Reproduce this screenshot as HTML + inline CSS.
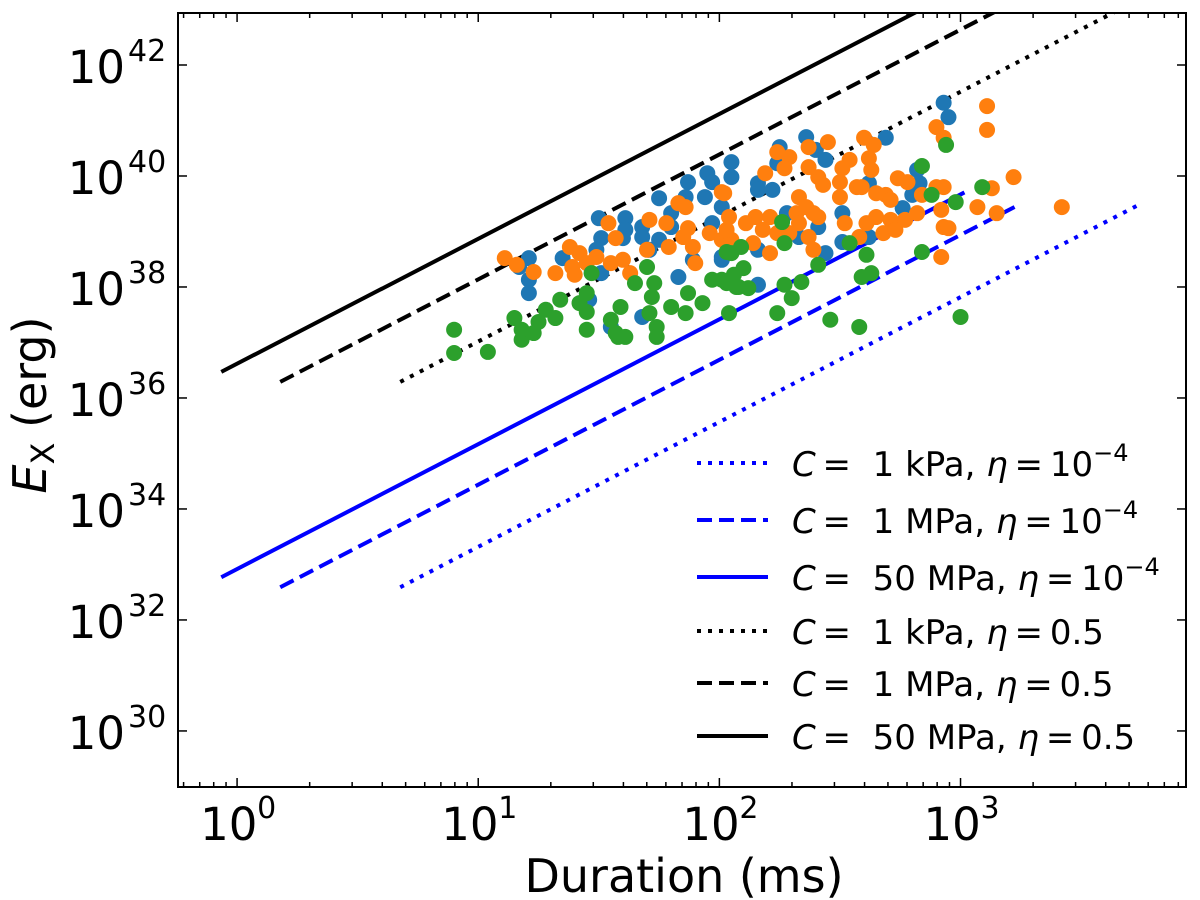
<!DOCTYPE html>
<html><head><meta charset="utf-8"><style>
html,body{margin:0;padding:0;background:#fff}
svg{display:block;font-family:"DejaVu Sans","Liberation Sans",sans-serif}
</style></head><body>
<svg id="chart" width="1200" height="900" viewBox="0 0 1200 900" xmlns="http://www.w3.org/2000/svg">
<defs><clipPath id="clip"><rect x="178" y="13" width="1008" height="774"/></clipPath></defs>
<rect x="0" y="0" width="1200" height="900" fill="#fff"/>
<g id="lines" clip-path="url(#clip)"></g>
<g id="points" clip-path="url(#clip)"></g>
<rect x="178" y="13" width="1008" height="774" fill="none" stroke="#000" stroke-width="2"/>
<g id="ticks"></g>
<g id="xlabels"></g>
<g id="ylabels"></g>
<text x="684" y="892" font-size="46" text-anchor="middle">Duration (ms)</text>
<text transform="translate(46,405) rotate(-90)" font-size="46" text-anchor="middle"><tspan font-style="italic">E</tspan><tspan font-size="32" dy="8">X</tspan><tspan dy="-8"> (erg)</tspan></text>
<g id="legend"></g>
</svg>
<script>
// axis config
const xMinLog = -0.245, xMaxLog = 3.935;
const yMinLog = 28.99, yMaxLog = 42.937;
const X0 = 178, X1 = 1186, Y0 = 787, Y1 = 13;
function sx(t){ return X0 + (Math.log10(t) - xMinLog) / (xMaxLog - xMinLog) * (X1 - X0); }
function sy(e){ return Y0 - (e - yMinLog) / (yMaxLog - yMinLog) * (Y0 - Y1); }

// tick data
const xMajorExps = [0, 1, 2, 3];
const yMajorExps = [30, 32, 34, 36, 38, 40, 42];

// line data: durations (ms), log10 energy at start, slope in log-log
const lineStartT = [4.75, 1.51, 0.86, 4.75, 1.51, 0.86];
const lineEndT = [5370, 1675, 1038, 5370, 1675, 1038];
const lineStartE = [32.59, 32.59, 32.77, 36.29, 36.29, 36.47];
const lineSlope = [2.25, 2.25, 2.25, 2.25, 2.25, 2.25];
const lineColors = ["#0000ff","#0000ff","#0000ff","#000000","#000000","#000000"];
const lineDash = ["4 7","15 7","none","4 7","15 7","none"];
const lineLabelC = ["1 kPa","1 MPa","50 MPa","1 kPa","1 MPa","50 MPa"];
const lineLabelEta = ["10","10","10","0.5","0.5","0.5"];
const lineLabelSup = ["−4","−4","−4","","",""];
const lineNames = ["line-1kpa-eta1e-4","line-1mpa-eta1e-4","line-50mpa-eta1e-4","line-1kpa-eta0.5","line-1mpa-eta0.5","line-50mpa-eta0.5"];

// scatter data: log10 duration (ms), log10 energy (erg)
const blueLogT = [2.05,2.05,1.95,1.97,1.87,1.75,1.86,1.94,1.80,2.01,1.61,1.50,1.68,1.61,1.51,1.60,1.68,1.75,1.80,1.97,1.35,1.21,1.17,1.21,1.21,1.51,1.83,1.89,2.01,1.71,1.68,1.55,1.46,1.49,
2.93,2.95,2.69,2.36,2.25,2.40,2.44,2.16,2.24,2.16,2.22,2.62,2.82,2.83,2.80,2.76,2.51,2.51,2.33,2.28,2.44,2.16,2.01,2.16,2.41,2.62];
const blueLogE = [40.25,39.98,40.05,39.89,39.89,39.60,39.62,39.62,39.33,39.44,39.24,39.24,39.08,39.03,38.88,38.88,38.90,38.85,39.08,39.15,38.52,38.52,38.36,38.13,37.89,38.25,38.18,38.49,38.54,38.67,37.46,37.28,37.77,38.67,
41.32,41.06,40.69,40.70,40.52,40.47,40.29,39.87,40.23,39.75,39.75,39.87,40.11,39.87,39.66,39.42,39.33,38.81,38.90,39.33,38.61,38.67,38.49,38.04,39.08,38.90];
const orangeLogT = [1.11,1.16,1.23,1.32,1.38,1.42,1.39,1.45,1.49,1.40,1.54,1.57,1.55,1.60,1.63,1.71,1.70,1.78,1.83,1.86,2.01,1.79,1.85,1.89,1.90,1.96,2.01,2.05,1.87,
3.11,3.11,2.90,2.93,2.60,2.64,2.45,2.37,2.24,2.29,2.27,2.19,2.37,2.54,2.51,2.62,2.63,2.41,2.43,2.50,2.57,2.59,2.50,2.65,2.69,2.71,2.74,2.78,2.84,2.90,2.93,2.92,2.93,2.95,2.92,3.07,3.22,3.13,3.15,3.42,
2.33,2.36,2.32,2.41,2.39,2.33,2.15,2.21,2.11,2.03,2.18,2.24,2.29,2.37,2.39,2.21,2.14,2.02,2.04,2.52,2.61,2.65,2.71,2.68,2.73,2.58,2.77,2.82];
const orangeLogE = [38.52,38.40,38.27,38.25,38.72,38.61,38.36,38.43,38.54,38.22,39.15,38.88,38.43,38.49,38.25,39.21,38.67,39.15,39.51,39.44,39.71,38.72,38.90,38.72,38.43,38.97,38.85,38.85,39.06,
41.26,40.83,40.88,40.69,40.69,40.56,40.61,40.52,40.43,40.34,40.14,40.05,40.16,40.29,40.14,40.32,40.11,39.98,39.84,39.89,39.80,39.80,39.62,39.69,39.66,39.57,39.96,39.89,39.66,39.80,39.80,39.39,39.08,39.06,38.54,39.44,39.98,39.78,39.33,39.44,
39.62,39.44,39.33,39.26,39.33,39.15,39.26,39.26,39.15,39.03,39.03,38.97,38.97,38.90,38.67,38.61,38.79,39.69,39.26,39.15,39.15,39.26,39.21,38.97,39.03,38.90,39.21,39.33];
const greenLogT = [0.90,0.90,1.04,1.15,1.18,1.18,1.23,1.25,1.28,1.32,1.34,1.42,1.45,1.45,1.47,1.45,1.55,1.59,1.58,1.65,1.70,1.73,1.72,1.71,1.74,1.74,1.80,1.86,1.87,1.93,1.97,2.03,2.04,2.05,2.07,1.57,1.61,
2.94,2.84,3.09,2.88,2.98,2.26,2.27,2.09,2.03,2.54,2.61,2.84,2.41,2.10,2.06,2.01,2.08,2.12,2.27,2.34,2.30,2.59,2.63,2.24,2.46,2.58,3.00];
const greenLogE = [37.23,36.81,36.83,37.44,37.05,37.23,37.17,37.37,37.59,37.44,37.77,37.71,37.89,37.55,38.25,37.23,37.41,37.64,37.10,38.07,38.36,38.07,37.82,37.53,37.28,37.10,37.64,37.53,37.89,37.71,38.13,38.07,37.53,38.61,38.00,37.17,37.10,
40.56,40.18,39.80,39.66,39.53,39.17,38.79,38.72,38.63,38.79,38.58,38.63,38.40,38.34,38.22,38.13,38.00,37.98,38.04,38.09,37.80,38.18,38.25,37.53,37.41,37.28,37.46];

const NS = "http://www.w3.org/2000/svg";
function mk(tag, attrs, parent){ const e = document.createElementNS(NS, tag); for (const k in attrs) e.setAttribute(k, attrs[k]); parent.appendChild(e); return e; }

// lines
const gL = document.getElementById('lines');
for (let i = 0; i < lineStartT.length; i++) {
  const t0 = lineStartT[i], t1 = lineEndT[i];
  const e1 = lineStartE[i] + lineSlope[i] * (Math.log10(t1) - Math.log10(t0));
  const l = mk('line', {x1: sx(t0), y1: sy(lineStartE[i]), x2: sx(t1), y2: sy(e1), stroke: lineColors[i], 'stroke-width': 4}, gL);
  if (lineDash[i] !== 'none') l.setAttribute('stroke-dasharray', lineDash[i]);
  
  
}

// points
const gP = document.getElementById('points');
function drawSeries(lt, le, color, name){
  for (let i = 0; i < lt.length; i++) {
    const c = mk('circle', {cx: sx(Math.pow(10, lt[i])), cy: sy(le[i]), r: 8, fill: color}, gP);
    
    
  }
}
drawSeries(blueLogT, blueLogE, '#1f77b4', 'blue-point');
drawSeries(orangeLogT, orangeLogE, '#ff7f0e', 'orange-point');
drawSeries(greenLogT, greenLogE, '#2ca02c', 'green-point');

// ticks
const gT = document.getElementById('ticks');
for (let d = -1; d <= 3; d++) {
  for (let m = 1; m <= 9; m++) {
    const t = m * Math.pow(10, d);
    const lg = Math.log10(t);
    if (lg < xMinLog || lg > xMaxLog) continue;
    const x = sx(t), len = (m === 1) ? 9 : 5;
    const a = mk('line', {x1: x, y1: Y0, x2: x, y2: Y0 - len, stroke: '#000', 'stroke-width': 1.5}, gT);
    
    
    const b = mk('line', {x1: x, y1: Y1, x2: x, y2: Y1 + len, stroke: '#000', 'stroke-width': 1.5}, gT);
    
    
  }
}
yMajorExps.forEach(e => {
  const y = sy(e);
  const a = mk('line', {x1: X0, y1: y, x2: X0 + 9, y2: y, stroke: '#000', 'stroke-width': 1.5}, gT);
  
  
  const b = mk('line', {x1: X1, y1: y, x2: X1 - 9, y2: y, stroke: '#000', 'stroke-width': 1.5}, gT);
  
  
});

// tick labels
const gX = document.getElementById('xlabels');
xMajorExps.forEach(e => {
  const x = sx(Math.pow(10, e));
  const t = mk('text', {x: x - 37, y: 840, 'font-size': 45}, gX);
  t.textContent = '10';
  
  
  const s = mk('text', {x: x + 20, y: 818, 'font-size': 30}, gX);
  s.textContent = String(e);
  
  
});
const gY = document.getElementById('ylabels');
yMajorExps.forEach(e => {
  const y = sy(e);
  const t = mk('text', {x: 125, y: y + 18, 'font-size': 45, 'text-anchor': 'end'}, gY);
  t.textContent = '10';
  
  
  const s = mk('text', {x: 128, y: y - 4, 'font-size': 30}, gY);
  s.textContent = String(e);
  
  
});

// legend
const gG = document.getElementById('legend');
const legRowY = [463, 520, 577, 631, 683, 736];
for (let i = 0; i < lineNames.length; i++) {
  const y = legRowY[i];
  const l = mk('line', {x1: 697, y1: y, x2: 768, y2: y, stroke: lineColors[i], 'stroke-width': 4}, gG);
  if (lineDash[i] !== 'none') l.setAttribute('stroke-dasharray', lineDash[i]);
  
  
  const t = mk('text', {x: 792, y: y + 13, 'font-size': 34}, gG);
  
  
  const p1 = mk('tspan', {'font-style': 'italic'}, t); p1.textContent = 'C';
  const p2 = mk('tspan', {}, t); p2.textContent = '\u2009=\u00a0 ' + lineLabelC[i] + ', ';
  const p3 = mk('tspan', {'font-style': 'italic'}, t); p3.textContent = 'η';
  const p4 = mk('tspan', {}, t); p4.textContent = '\u2009=\u2009' + lineLabelEta[i];
  if (lineLabelSup[i]) { const p5 = mk('tspan', {'font-size': 24, dy: -15}, t); p5.textContent = lineLabelSup[i]; }
}
</script>
</body></html>
